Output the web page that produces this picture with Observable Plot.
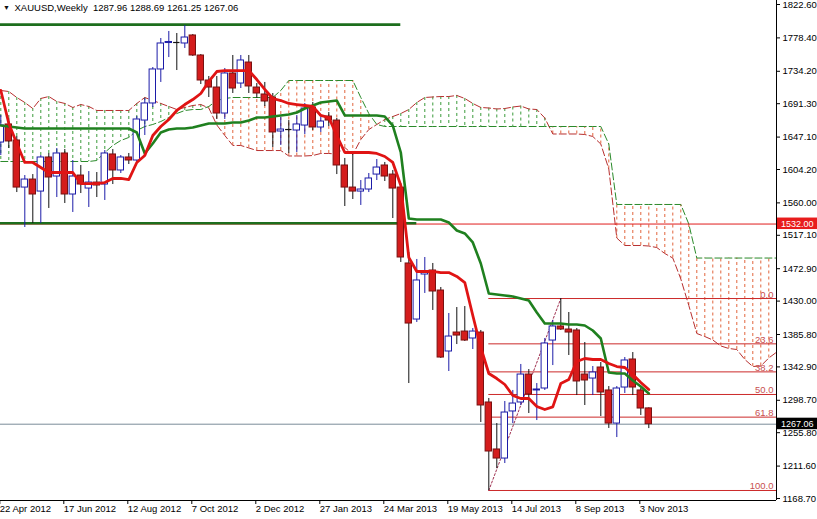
<!DOCTYPE html>
<html><head><meta charset="utf-8">
<script src="https://cdn.jsdelivr.net/npm/d3@7"></script>
<script src="https://cdn.jsdelivr.net/npm/@observablehq/plot@0.6"></script>
<style>
body{margin:0;background:#fff;}
#chart{width:817px;height:519px;overflow:hidden;}
</style>
</head><body><div id="chart"></div>
<script>
// ---- weekly candles XAUUSD (index 0 = week of 22 Apr 2012) ----
const opens = [1639.9,1663.8,1642.6,1580.3,1590.9,1575.0,1620.1,1594.9,1625.4,1571.1,
1596.2,1579.0,1586.9,1584.3,1624.1,1602.9,1620.1,1616.1,1669.0,1691.6,
1736.6,1771.6,1772.3,1771.0,1781.6,1755.1,1722.0,1712.7,1678.3,1731.3,
1718.0,1745.8,1712.7,1703.5,1699.5,1654.5,1657.1,1655.8,1662.4,1686.3,
1659.8,1674.3,1669.0,1609.5,1580.3,1575.0,1577.7,1597.5,1609.5,1597.5,
1580.3,1479.8,1405.6,1465.2,1470.5,1444.0,1363.3,1388.4,1389.7,1380.5,
1388.4,1295.8,1233.6,1221.6,1283.9,1295.8,1332.8,1311.7,1314.3,1377.8,
1396.4,1392.4,1391.1,1332.8,1327.5,1342.1,1311.7,1267.9,1315.6,1352.7,
1311.7,1287.96];
const highs = [1675.7,1671.7,1647.9,1596.2,1597.5,1622.7,1625.4,1632.0,1630.7,1616.1,
1609.5,1601.5,1600.2,1629.3,1630.7,1622.7,1625.4,1674.3,1698.2,1739.2,
1777.6,1786.9,1784.2,1794.8,1782.9,1756.4,1727.3,1727.3,1737.9,1755.1,
1755.1,1755.1,1718.0,1719.4,1704.8,1673.0,1669.0,1675.7,1691.6,1692.9,
1673.0,1679.6,1671.7,1618.8,1625.4,1589.6,1598.9,1617.4,1613.5,1602.9,
1585.6,1494.3,1485.1,1487.7,1479.8,1448.0,1413.6,1421.5,1422.8,1393.7,
1391.1,1301.1,1267.9,1297.1,1311.7,1346.1,1339.4,1320.9,1380.5,1404.3,
1433.4,1414.9,1393.7,1375.2,1343.4,1348.7,1316.9,1316.9,1355.3,1361.9,
1314.3,1288.69];
const lows = [1622.7,1632.0,1573.7,1527.4,1532.7,1532.7,1552.6,1567.1,1559.2,1547.3,
1572.4,1553.9,1567.1,1563.2,1584.3,1598.9,1610.8,1613.5,1649.2,1686.3,
1719.4,1752.4,1735.2,1764.4,1753.8,1716.7,1699.5,1670.4,1670.4,1704.8,
1711.4,1704.8,1698.2,1687.6,1633.3,1636.0,1625.4,1626.7,1650.5,1655.8,
1653.2,1661.1,1597.5,1555.2,1564.5,1556.6,1573.7,1589.6,1588.3,1539.3,
1481.1,1320.9,1401.7,1440.1,1417.6,1354.0,1336.8,1372.5,1376.5,1365.9,
1269.3,1179.3,1208.4,1215.0,1267.9,1291.8,1281.2,1271.9,1311.7,1344.7,
1391.1,1358.0,1305.0,1291.8,1305.0,1277.2,1261.4,1249.4,1307.7,1305.0,
1278.6,1261.25];
const closes = [1662.4,1641.3,1580.3,1590.9,1571.1,1620.1,1593.6,1625.4,1571.1,1594.9,
1584.3,1586.9,1583.0,1625.4,1602.9,1620.1,1616.1,1670.4,1691.6,1736.6,
1771.0,1773.0,1772.3,1778.9,1755.1,1722.0,1712.7,1678.3,1731.3,1711.4,
1748.5,1714.1,1704.8,1694.2,1653.2,1657.1,1657.1,1663.8,1684.9,1659.8,
1667.7,1669.0,1609.5,1580.3,1575.0,1577.7,1592.3,1606.8,1594.9,1579.0,
1487.7,1400.3,1457.3,1469.2,1442.7,1355.3,1383.1,1384.4,1377.8,1389.7,
1291.8,1230.9,1221.6,1282.5,1294.4,1332.8,1306.4,1313.0,1373.9,1396.4,
1392.4,1388.4,1323.6,1324.9,1335.5,1309.0,1267.9,1314.3,1351.4,1315.6,
1287.8,1267.06];

// ---- Ichimoku lines ----
const tenkan = [1708.8,1665.1,1638.6,1613.5,1613.5,1606.8,1600.2,1600.2,1600.2,1600.2,
1585.6,1585.6,1585.6,1586.9,1592.3,1592.3,1590.9,1613.5,1622.7,1649.2,
1661.1,1670.4,1682.3,1690.2,1696.8,1704.8,1720.7,1733.9,1735.2,1735.2,
1735.2,1735.2,1723.3,1710.1,1698.2,1695.5,1691.6,1690.2,1688.9,1687.6,
1675.7,1673.0,1649.2,1626.7,1626.7,1626.7,1626.7,1625.4,1621.4,1613.5,
1583.0,1487.7,1469.2,1469.2,1469.2,1467.8,1467.8,1462.6,1454.6,1410.9,
1368.6,1334.2,1327.5,1319.6,1305.0,1301.1,1301.1,1290.5,1286.5,1290.0,
1321.0,1326.2,1350.0,1354.0,1352.7,1352.7,1347.4,1343.4,1342.1,1332.8,
1322.2,1313.0];
const kijun = [1662.4,1661.1,1659.8,1658.5,1658.5,1658.5,1658.5,1658.5,1658.5,1658.5,
1658.5,1658.5,1658.5,1658.5,1658.5,1658.5,1658.5,1653.2,1625.4,1638.6,
1653.2,1657.1,1658.5,1658.5,1659.8,1662.4,1665.1,1665.1,1665.1,1666.4,
1666.4,1669.0,1673.0,1673.0,1674.3,1675.7,1677.0,1679.6,1684.9,1688.9,
1692.9,1694.2,1695.5,1675.7,1675.7,1675.7,1675.7,1675.7,1674.3,1662.4,
1626.7,1539.3,1538.0,1538.0,1538.0,1538.0,1534.0,1523.4,1519.5,1507.6,
1479.8,1440.1,1438.7,1437.4,1436.1,1433.4,1430.8,1414.9,1400.3,1400.3,
1400.3,1399.0,1399.0,1397.7,1391.1,1380.5,1335.5,1334.2,1334.2,1324.9,
1316.9,1307.7];
const spanA = [1708.8,1707.4,1699.5,1692.9,1684.9,1698.2,1700.8,1694.2,1691.6,1686.3,
1690.2,1687.6,1682.3,1682.3,1682.3,1682.3,1682.3,1691.6,1699.5,1695.5,
1691.6,1687.6,1683.6,1686.3,1688.9,1690.2,1685.6,1663.1,1649.2,1636.0,
1636.0,1632.7,1629.3,1629.3,1629.3,1629.3,1622.1,1622.1,1622.1,1622.7,
1625.4,1625.4,1624.7,1633.3,1624.1,1643.9,1657.1,1663.8,1670.4,1674.3,
1678.3,1683.6,1692.9,1699.5,1700.2,1700.8,1700.8,1702.2,1698.2,1691.6,
1686.3,1685.6,1684.3,1684.9,1686.9,1688.2,1684.3,1683.6,1672.4,1651.2,
1651.2,1651.2,1651.2,1650.5,1647.9,1637.9,1604.9,1513.5,1503.6,1503.6,
1503.6,1502.9,1500.9,1493.0,1487.0,1459.3,1424.2,1387.1,1383.1,1378.5,
1370.6,1367.3,1365.9,1352.7,1343.4,1344.1,1354.7,1362.6];
const spanB = [1614.8,1614.8,1614.8,1614.8,1614.8,1614.8,1614.8,1614.8,1614.8,1614.8,
1614.8,1614.8,1616.1,1626.7,1636.0,1642.6,1646.6,1655.8,1661.1,1663.8,
1667.7,1673.0,1678.3,1682.3,1683.6,1683.6,1687.6,1695.5,1698.2,1699.5,
1699.5,1699.5,1699.5,1699.5,1699.5,1708.8,1722.0,1722.0,1722.0,1722.0,
1722.0,1722.0,1722.0,1722.0,1722.0,1699.5,1678.3,1663.8,1661.1,1661.1,
1661.1,1661.1,1661.1,1661.1,1661.1,1661.1,1661.1,1661.1,1661.1,1661.1,
1661.1,1661.1,1661.1,1661.1,1661.1,1661.1,1661.1,1661.1,1661.1,1661.1,
1661.1,1661.1,1661.1,1661.1,1661.1,1661.1,1637.9,1557.9,1557.9,1557.9,
1557.9,1557.9,1557.9,1557.9,1557.9,1557.9,1532.0,1487.0,1487.0,1487.0,
1487.0,1487.0,1487.0,1487.0,1487.0,1487.0,1487.0,1487.0];

// ---- axis ticks ----
const dateTickIdx = [0,8,16,24,32,40,48,56,64,72,80];
const dateTickLabels = ["22 Apr 2012","17 Jun 2012","12 Aug 2012","7 Oct 2012","2 Dec 2012","27 Jan 2013","24 Mar 2013","19 May 2013","14 Jul 2013","8 Sep 2013","3 Nov 2013"];
const priceTicks = [1822.60,1778.40,1734.20,1691.30,1647.10,1604.20,1560.00,1517.10,1472.90,1430.00,1385.80,1342.90,1298.70,1255.80,1211.60,1168.70];

// ---- drawn objects ----
const fibNames = ["0.0","23.6","38.2","50.0","61.8","100.0"];
const fibPrices = [1433.4,1373.4,1336.3,1306.4,1276.4,1179.3];
const fibFromIdx = 61;
const fibTrendIdx = [61,70];
const fibTrendPrice = [1179.3,1433.4];
const greenLevels = [1796.0,1533.0];
const greenLevelEnds = [50,52];
const redLevel = 1532.00;
const bidPrice = 1267.06;
const titleText = "XAUUSD,Weekly  1287.96 1288.69 1261.25 1267.06";

// ---- build tables ----
const candles = opens.map((o,i)=>({i, o, h:highs[i], l:lows[i], c:closes[i]}));
const bodies = candles.filter(d=>d.o!==d.c);
const dojis = candles.filter(d=>d.o===d.c);
const tk = tenkan.map((v,i)=>({i,v}));
const kj = kijun.map((v,i)=>({i,v}));
const cloud = spanA.map((a,i)=>({i,a,b:spanB[i]}));
const fibs = fibNames.map((n,k)=>({n, p:fibPrices[k]}));
const fibTrend = fibTrendIdx.map((i,k)=>({i, p:fibTrendPrice[k]}));
const greens = greenLevels.map((p,k)=>({p, end:greenLevelEnds[k]}));

const xDomain = [-0.0375, 96.9625];
const yDomain = [1166.05, 1827.9];

const GREEN_HATCH = "#3a9a3a", RED_HATCH = "#e2643c";
const BULL = "#1c1ca8", BEAR = "#d41c1c";

const plot = Plot.plot({
  width: 817, height: 519,
  marginLeft: 0, marginRight: 41, marginTop: 0, marginBottom: 19,
  x: {domain: xDomain},
  y: {domain: yDomain},
  style: {fontFamily: "'Liberation Sans', Arial, sans-serif", fontSize: "9.5px", background: "white", color: "black"},
  marks: [
    // cloud hatch + span lines
    Plot.ruleX(cloud, {x:"i", y1:"a", y2:"b", stroke: d => d.a >= d.b ? GREEN_HATCH : RED_HATCH, strokeWidth: 1, strokeDasharray: "3,3", clip: true}),
    Plot.line(cloud, {x:"i", y:"a", stroke:"#b83030", strokeWidth:1, strokeDasharray:"7,3", clip: true}),
    Plot.line(cloud, {x:"i", y:"b", stroke:"#2a8a2a", strokeWidth:1, strokeDasharray:"7,3", clip: true}),
    // horizontal levels
    Plot.ruleY([bidPrice], {stroke:"#7a8c98", strokeWidth:1}),
    Plot.ruleY([redLevel], {stroke:"#e01c1c", strokeWidth:1}),
    Plot.ruleY(fibs, {y:"p", x1: fibFromIdx, x2: xDomain[1], stroke:"#cc2a2a", strokeWidth:1}),
    Plot.line(fibTrend, {x:"i", y:"p", stroke:"#a03050", strokeWidth:1, strokeDasharray:"2,2"}),
    Plot.ruleY(greens, {y:"p", x1: xDomain[0], x2:"end", stroke:"#1d6e1d", strokeWidth:2.6}),
    // candles
    Plot.ruleX(candles, {x:"i", y1:"l", y2:"h", stroke: d => d.c > d.o ? BULL : "#111", strokeWidth:1, clip: true}),
    Plot.rect(bodies, {x1: d=>d.i-0.4, x2: d=>d.i+0.4, y1:"o", y2:"c",
      fill: d => d.c > d.o ? "white" : BEAR, stroke: d => d.c > d.o ? BULL : "#7a1010", strokeWidth:1, clip: true}),
    Plot.ruleY(dojis, {y:"o", x1: d=>d.i-0.4, x2: d=>d.i+0.4, stroke:"#111", strokeWidth:1.2}),
    // tenkan / kijun
    Plot.line(kj, {x:"i", y:"v", stroke:"#1f801f", strokeWidth:2.6, clip: true}),
    Plot.line(tk, {x:"i", y:"v", stroke:"#e01414", strokeWidth:2.8, clip: true}),
    // fib labels
    Plot.text(fibs, {y:"p", text:"n", frameAnchor:"right", textAnchor:"end", lineAnchor:"bottom", dx:-3, dy:-1, fill:"#c85050", fontSize: 9.5}),
    // axis lines
    Plot.ruleY([yDomain[0]], {stroke:"black"}),
    Plot.ruleX([xDomain[1]], {stroke:"black"}),
    // axes
    Plot.axisY({anchor:"right", ticks: priceTicks, tickFormat: d => d.toFixed(2), tickSize: 3, tickPadding: 3}),
    Plot.axisX({anchor:"bottom", ticks: dateTickIdx, tickFormat: d => dateTickLabels[dateTickIdx.indexOf(d)], tickSize: 4, tickPadding: 1, textAnchor:"start", dx:-1}),
    // title
    Plot.text(["\u25BC"], {frameAnchor:"top-left", dx: 6, dy: 7, textAnchor:"middle", lineAnchor:"middle", fontSize: 7, fill:"#111"}),
    Plot.text([titleText], {frameAnchor:"top-left", dx: 14, dy: 7, textAnchor:"start", lineAnchor:"middle", fill:"black", fontSize: 9.5})
  ]
});

// price markers on the right axis
const xs = plot.scale("x"), ys = plot.scale("y");
const right = xs.range[1];
const svg = d3.select(plot);
[{p: redLevel, bg:"#e81c1c"}, {p: bidPrice, bg:"#000"}].forEach(m => {
  const yy = ys.apply(m.p);
  svg.append("rect").attr("x", right + 1).attr("y", yy - 6).attr("width", 817 - right).attr("height", 11.5).attr("fill", m.bg);
  svg.append("text").attr("x", right + 5).attr("y", yy).attr("dy", "0.33em")
    .attr("text-anchor", "start")
    .attr("fill", "white").attr("font-size", "9px").text(m.p.toFixed(2));
});

document.getElementById("chart").appendChild(plot);
</script>
</body></html>
